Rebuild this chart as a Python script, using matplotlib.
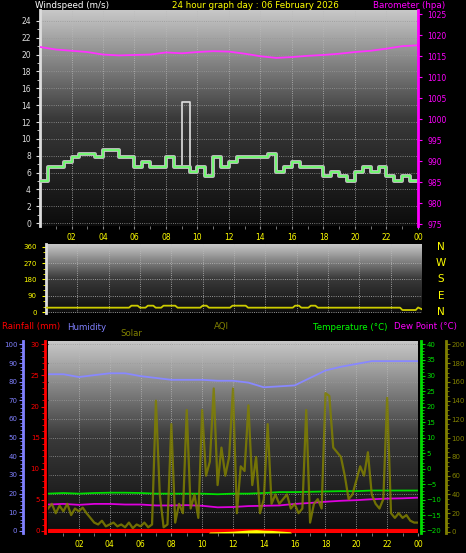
import numpy as np
import matplotlib
matplotlib.use("Agg")
from matplotlib import pyplot as plt
from matplotlib.colors import LinearSegmentedColormap

# wind speed (m/s), half-hour steps from 00:00
wind_avg = [5, 6.7, 6.7, 7.3, 7.8, 8.2, 8.2, 7.8, 8.7, 8.7, 7.8, 7.8,
            6.7, 7.2, 6.7, 6.7, 7.8, 6.7, 6.7, 6.1, 6.7, 5.6, 7.8, 6.7,
            7.2, 7.8, 7.8, 7.8, 7.8, 8.2, 6.1, 6.7, 7.2, 6.7, 6.7, 6.7,
            5.6, 6.1, 5.6, 5, 6.1, 6.7, 6.1, 6.7, 5.6, 5, 5.6, 5]
wind_gust = list(wind_avg)
wind_gust[18] = 14.4

# barometer (hPa), hourly
baro = [1017.2, 1016.6, 1016.3, 1016.0, 1015.4, 1015.2, 1015.3, 1015.4, 1015.9,
        1015.7, 1016.0, 1016.2, 1016.1, 1015.6, 1015.0, 1014.6, 1014.8, 1015.1,
        1015.3, 1015.6, 1016.0, 1016.3, 1016.8, 1017.4, 1017.6]

# wind direction (deg)
dir_hours = [0, 5.3, 5.45, 5.85, 6.0, 6.35, 6.5, 6.85, 7.0, 7.35, 7.5, 8.25, 8.4,
             9.85, 10.0, 10.25, 10.4, 11.75, 11.9, 12.75, 12.9, 15.75, 15.9, 16.15,
             16.3, 16.75, 16.9, 17.2, 17.35, 22.6, 22.75, 23.6, 23.75, 24]
dir_vals = [24, 24, 35, 35, 24, 24, 35, 35, 24, 24, 35, 35, 24,
            24, 35, 35, 24, 24, 35, 35, 24, 24, 35, 35,
            24, 24, 35, 35, 24, 24, 11, 11, 25, 15]

# humidity (%), hourly
humidity = [84, 84, 82.5, 83.5, 84.5, 84.5, 83, 82, 81, 81, 81, 80.5, 80.5,
            79.5, 77, 77.5, 78, 82, 86, 88, 89.5, 91, 91, 91, 91]
# temperature / dew point (°C), hourly
temperature = [-8.0, -7.8, -8.0, -7.8, -7.7, -7.7, -7.8, -8.0, -8.0, -8.0, -8.0, -8.2,
               -8.0, -8.0, -7.8, -7.5, -7.5, -7.4, -7.3, -7.2, -7.2, -7.0, -7.0, -7.0, -7.0]
dewpoint = [-11.5, -11.3, -11.6, -11.3, -11.3, -11.5, -11.5, -11.8, -11.8, -11.7, -11.9,
            -12.4, -12.3, -12.0, -11.9, -11.8, -11.3, -11.0, -10.6, -10.3, -10.1, -9.8,
            -9.6, -9.5, -9.3]
rainfall = [0] * 25
# solar (W/m2)
solar_hours = [0, 10.4, 10.5, 11, 12, 12.5, 13, 13.5, 14, 14.5, 15, 15.7, 15.8, 24]
solar_vals = [0, 0, 5, 6, 9, 12, 15, 17, 14, 13, 10, 6, 0, 0]
# AQI, quarter-hour
aqi = [25, 30, 20, 28, 22, 30, 18, 25, 22, 26, 20, 15, 10, 8, 12, 6,
       8, 10, 6, 8, 5, 10, 4, 8, 6, 10, 5, 8, 140, 40, 5, 8,
       115, 10, 30, 20, 130, 25, 40, 15, 130, 60, 75, 153, 50, 90, 60, 80,
       153, 20, 70, 65, 135, 50, 80, 20, 35, 115, 30, 40, 30, 35, 40, 25,
       30, 20, 25, 130, 10, 30, 35, 25, 148, 145, 90, 85, 80, 60, 35, 40,
       55, 70, 60, 85, 40, 30, 25, 35, 143, 20, 15, 20, 15, 18, 12, 10, 10]

hour_ticks = list(range(2, 25, 2))
hour_labels = ["%02d" % (h % 24) for h in hour_ticks]

W, H = 466, 553
fig = plt.figure(figsize=(W / 100, H / 100), dpi=100, facecolor="black")
grad = LinearSegmentedColormap.from_list("g", ["#0c0c0c", "#3a3a3a", "#c8c8c8"])


def box(x0, y0, x1, y1):
    return [x0 / W, 1 - y1 / H, (x1 - x0) / W, (y1 - y0) / H]


def style(ax, xcol="yellow"):
    ax.set_facecolor("black")
    ax.imshow(np.linspace(0, 1, 256)[::-1].reshape(-1, 1), cmap=grad, aspect="auto",
              extent=[0, 1, 0, 1], transform=ax.transAxes, zorder=0)
    ax.set_xlim(0, 24)
    ax.set_xticks(hour_ticks)
    ax.set_xticklabels(hour_labels, color=xcol, fontsize=5.5)
    ax.set_xticks(np.arange(1, 24, 2), minor=True)
    ax.grid(True, color="#bbbbbb", linestyle=":", linewidth=0.6, zorder=1)
    for s in ax.spines.values():
        s.set_visible(False)
    ax.spines["left"].set_visible(True)
    ax.spines["left"].set_color("#dddddd")
    ax.spines["left"].set_linewidth(2)
    ax.tick_params(axis="x", which="both", colors="#888888", length=2, labelcolor=xcol, pad=3)


# top panel
ax1 = fig.add_axes(box(40, 10, 418, 226))
style(ax1)
ax1.set_ylim(-0.35, 25.3)
ax1.set_yticks(range(0, 25, 2))
ax1.tick_params(axis="y", colors="#dddddd", labelsize=5.5, length=3)
ax1.set_yticks(np.arange(1, 25, 2), minor=True)
ax1.tick_params(axis="y", which="minor", length=2, colors="#dddddd")
ax1.grid(True, which="major", axis="y", color="#999999", linestyle=":", linewidth=0.6)
t_half = np.arange(0, 24.5, 0.5)
ax1.step(t_half, wind_gust + [wind_gust[-1]], where="post", color="#e0e0e0", lw=1.2, zorder=3)
ax1.step(t_half, wind_avg + [wind_avg[-1]], where="post", color="#c0c0c0", lw=2.8, zorder=4)
ax1.step(t_half, wind_avg + [wind_avg[-1]], where="post", color="#66ff66", lw=1.2, zorder=5)
ax1b = ax1.twinx()
ax1b.set_ylim(974.6, 1026)
ax1b.set_yticks(range(975, 1026, 5))
ax1b.tick_params(axis="y", colors="#ff00ff", labelsize=5.5, length=3)
for s in ax1b.spines.values():
    s.set_visible(False)
ax1b.spines["right"].set_visible(True)
ax1b.spines["right"].set_color("#ff00ff")
ax1b.spines["right"].set_linewidth(2)
ax1b.plot(range(25), baro, color="#ff33ff", lw=1.3)
fig.text(35 / W, 1 - 5 / H, "Windspeed (m/s)", color="white", fontsize=6.3, va="center")
fig.text(172 / W, 1 - 5 / H, "24 hour graph day : 06 February 2026", color="yellow",
         fontsize=6.3, va="center")
fig.text(373 / W, 1 - 5 / H, "Barometer (hpa)", color="#ff00ff", fontsize=6.3, va="center")

# middle panel (wind direction)
ax2 = fig.add_axes(box(46, 244, 422, 313))
style(ax2)
ax2.set_ylim(-5.5, 376)
ax2.set_yticks([0, 90, 180, 270, 360])
ax2.set_yticks(range(0, 361, 30), minor=True)
ax2.tick_params(axis="y", colors="yellow", labelsize=5, length=3)
ax2.tick_params(axis="y", which="minor", length=2, colors="yellow")
ax2.tick_params(axis="x", which="both", bottom=False, labelbottom=False)
ax2.plot(dir_hours, dir_vals, color="#cccc00", lw=1.3, zorder=3)
for lab, v in zip(["N", "W", "S", "E", "N"], [360, 270, 180, 90, 0]):
    ax2.text(1.05, v, lab, transform=ax2.get_yaxis_transform(), color="yellow",
             fontsize=7.5, va="center", ha="center")

# bottom panel
ax3 = fig.add_axes(box(48, 341, 418, 533))
style(ax3)
ax3.spines["left"].set_visible(False)
ax3.set_ylim(-1.1, 101.8)
ax3.set_yticks(range(0, 101, 10))
ax3.grid(True, axis="y", color="#999999", linestyle=":", linewidth=0.6)
ax3.tick_params(axis="y", left=False, labelleft=False)


def side_axis(ylim, ticks, color, side, offset, minor=None):
    a = ax3.twinx()
    a.set_ylim(*ylim)
    for s in a.spines.values():
        s.set_visible(False)
    a.spines[side].set_visible(True)
    a.spines[side].set_position(("outward", offset))
    a.spines[side].set_color(color)
    a.spines[side].set_linewidth(2)
    a.yaxis.set_ticks_position(side)
    a.yaxis.set_label_position(side)
    a.set_yticks(ticks)
    if minor is not None:
        a.set_yticks(minor, minor=True)
    a.tick_params(axis="y", which="both", colors=color, labelsize=5, length=3, pad=1)
    a.tick_params(axis="y", which="minor", length=2)
    return a


ax_hum = side_axis((-1.1, 101.8), range(0, 101, 10), "#8080ff", "left", 18, np.arange(0, 101, 2))
ax_rain = side_axis((-0.33, 30.54), range(0, 31, 5), "red", "left", 2, range(0, 31))
ax_temp = side_axis((-20.66, 41.1), range(-20, 41, 5), "#00dd00", "right", 2, range(-20, 41))
ax_aqi = side_axis((-1.1, 203.6), range(0, 201, 20), "#808000", "right", 20, range(0, 201, 5))
ax_sol = ax3.twinx()
ax_sol.set_ylim(-0.55, 1000)
ax_sol.axis("off")

t_hour = np.arange(25)
t_q = np.arange(0, 24.01, 0.25)
ax_sol.fill_between(solar_hours, 0, solar_vals, color="yellow", lw=0, zorder=2)
ax_rain.plot(t_hour, rainfall, color="red", lw=3, zorder=3)
ax_hum.plot(t_hour, humidity, color="#8888ff", lw=1.3)
ax_temp.plot(t_hour, temperature, color="#00dd00", lw=1.3)
ax_temp.plot(t_hour, dewpoint, color="#dd00dd", lw=1.3)
ax_aqi.plot(t_q, aqi, color="#808000", lw=1.6, alpha=0.85)

fig.text(2 / W, 1 - 327 / H, "Rainfall (mm)", color="red", fontsize=6.2, va="center")
fig.text(67 / W, 1 - 327 / H, "Humidity", color="#8080ff", fontsize=6.2, va="center")
fig.text(120 / W, 1 - 333 / H, "Solar", color="#808000", fontsize=6.2, va="center")
fig.text(221 / W, 1 - 327 / H, "AQI", color="#808000", fontsize=6.2, va="center", ha="center")
fig.text(313 / W, 1 - 327 / H, "Temperature (°C)", color="#00ff00", fontsize=6.2, va="center")
fig.text(394 / W, 1 - 327 / H, "Dew Point (°C)", color="#ff00ff", fontsize=6.2, va="center")

fig.savefig("out.png", dpi=100, facecolor="black")
